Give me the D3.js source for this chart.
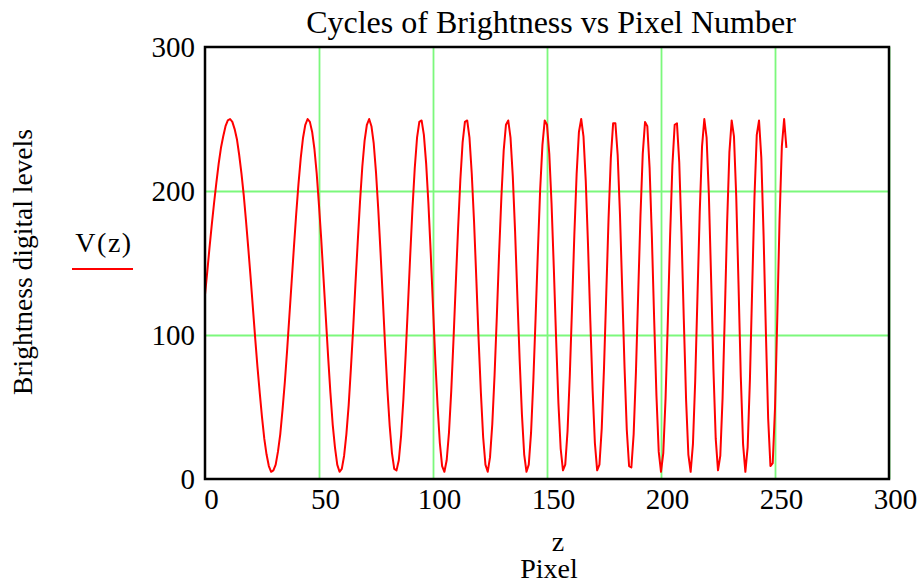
<!DOCTYPE html>
<html lang="en">
  <head>
    <meta charset="utf-8">
    <title>Cycles of Brightness vs Pixel Number</title>
    <script type="text/javascript" src="https://cdn.jsdelivr.net/npm/d3@7"></script>
    <style>
    body { margin: 0; background: #fff; }
    svg text { font-family: "Liberation Serif", "Times New Roman", serif; fill: #000; }
    </style>
  </head>
  <body>
    <script type="text/javascript">
      // brightness V(z), one value per pixel z = 0..255
      var brightness = [
        128,144,161,177,192,206,219,230,238,245,
        249,250,248,243,236,225,212,197,179,160,
        140,119,98,78,60,43,28,17,9,5,
        6,10,19,31,48,67,89,113,137,161,
        184,205,223,237,246,250,248,241,229,212,
        190,166,139,112,85,60,38,22,10,5,
        7,16,31,51,77,105,136,165,193,217,
        235,246,250,245,233,213,187,157,125,92,
        62,37,18,7,6,13,30,55,86,120,
        155,188,216,237,248,249,239,219,191,157,
        120,83,51,25,9,5,13,32,61,97,
        136,174,208,234,248,249,237,212,179,139,
        97,60,29,10,5,15,38,72,113,157,
        196,228,246,249,237,210,172,127,83,45,
        17,5,10,32,68,112,158,201,232,249,
        246,226,191,146,97,53,21,6,10,33,
        72,120,170,212,241,250,238,207,162,110,
        62,25,6,10,35,77,129,181,223,247,
        247,225,184,131,78,34,9,8,31,74,
        129,183,226,248,245,216,168,111,58,19,
        5,18,56,110,169,218,246,247,220,170,
        111,55,17,5,24,68,127,186,231,250,
        237,197,138,76,28,6,16,56,115,178,
        227,249,238,196,135,71,24,5,22,69,
        133,196,239,249,223,169,102,42,9,11,
        49,112,180,231,250,230
      ];
      var pixels = brightness.map(function(d, i) { return i; });
      var xTicks = [0, 50, 100, 150, 200, 250, 300];
      var yTicks = [0, 100, 200, 300];
      var xGrid = [50, 100, 150, 200, 250, 300];
      var yGrid = [100, 200];

      var w = 918;
      var h = 584;
      var plotLeft = 205, plotRight = 889, plotTop = 47, plotBottom = 479;

      var svg = d3.select("body").append("svg")
                  .attr("width", w)
                  .attr("height", h);

      var x = d3.scaleLinear().domain([0, 300]).range([plotLeft, plotRight]);
      var y = d3.scaleLinear().domain([0, 300]).range([plotBottom, plotTop]);

      // green grid
      var gx = svg.append("g")
         .attr("transform", "translate(0," + plotBottom + ")")
         .call(d3.axisBottom(x).tickValues(xGrid).tickSize(-(plotBottom - plotTop)).tickFormat(""));
      var gy = svg.append("g")
         .attr("transform", "translate(" + plotLeft + ",0)")
         .call(d3.axisLeft(y).tickValues(yGrid).tickSize(-(plotRight - plotLeft)).tickFormat(""));
      [gx, gy].forEach(function(g) {
        g.select(".domain").remove();
        g.selectAll("line").attr("stroke", "#7cf87c").attr("stroke-width", 1.8);
      });

      // curve
      var line = d3.line()
                   .x(function(d, i) { return x(pixels[i]); })
                   .y(function(d) { return y(d); });
      svg.append("path")
         .datum(brightness)
         .attr("d", line)
         .attr("fill", "none")
         .attr("stroke", "#ff0000")
         .attr("stroke-width", 2)
         .attr("stroke-linejoin", "round");

      // frame
      svg.append("rect")
         .attr("x", plotLeft).attr("y", plotTop)
         .attr("width", plotRight - plotLeft).attr("height", plotBottom - plotTop)
         .attr("fill", "none")
         .attr("stroke", "#000")
         .attr("stroke-width", 2.5);

      // tick labels
      var ax = svg.append("g")
         .attr("transform", "translate(0," + plotBottom + ")")
         .call(d3.axisBottom(x).tickValues(xTicks).tickSize(0).tickPadding(9));
      var ay = svg.append("g")
         .attr("transform", "translate(" + plotLeft + ",0)")
         .call(d3.axisLeft(y).tickValues(yTicks).tickSize(0).tickPadding(10));
      [ax, ay].forEach(function(g) {
        g.select(".domain").remove();
        g.selectAll("text")
         .attr("font-family", "Liberation Serif, serif")
         .attr("font-size", 29)
         .attr("fill", "#000");
      });
      ax.selectAll("text").attr("dx", 6);

      // titles
      svg.append("text")
         .attr("x", 551).attr("y", 33)
         .attr("text-anchor", "middle")
         .attr("font-size", 32)
         .text("Cycles of Brightness vs Pixel Number");

      svg.append("text")
         .attr("transform", "translate(32,262) rotate(-90)")
         .attr("text-anchor", "middle")
         .attr("font-size", 27.5)
         .text("Brightness digital levels");

      svg.append("text")
         .attr("x", 558).attr("y", 551)
         .attr("text-anchor", "middle")
         .attr("font-size", 28)
         .text("z");
      svg.append("text")
         .attr("x", 549).attr("y", 578)
         .attr("text-anchor", "middle")
         .attr("font-size", 28)
         .text("Pixel");

      // legend
      svg.append("text")
         .attr("x", 104).attr("y", 252)
         .attr("text-anchor", "middle")
         .attr("font-size", 28)
         .attr("letter-spacing", 1.5)
         .text("V(z)");
      svg.append("line")
         .attr("x1", 72).attr("x2", 133)
         .attr("y1", 269).attr("y2", 269)
         .attr("stroke", "#ff0000")
         .attr("stroke-width", 2);
    </script>
  </body>
</html>
